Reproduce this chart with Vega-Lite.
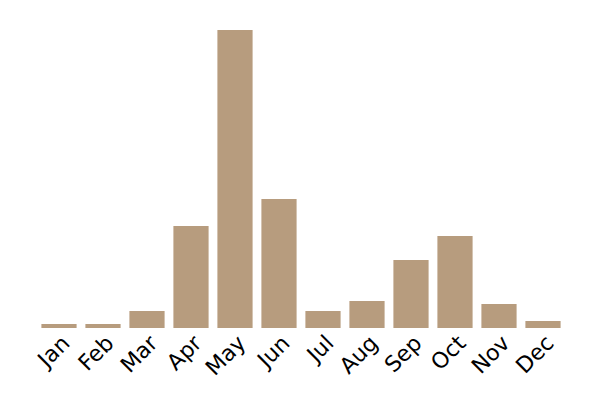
{
  "$schema": "https://vega.github.io/schema/vega-lite/v6.json",
  "width": 528,
  "height": 298,
  "autosize": {"type": "none"},
  "padding": {"left": 37, "top": 30, "right": 35, "bottom": 72},
  "background": "#ffffff",
  "data": {
    "values": [
      {"month": "Jan", "value": 4},
      {"month": "Feb", "value": 4},
      {"month": "Mar", "value": 17},
      {"month": "Apr", "value": 102},
      {"month": "May", "value": 298},
      {"month": "Jun", "value": 129},
      {"month": "Jul", "value": 17},
      {"month": "Aug", "value": 27},
      {"month": "Sep", "value": 68},
      {"month": "Oct", "value": 92},
      {"month": "Nov", "value": 24},
      {"month": "Dec", "value": 7}
    ]
  },
  "mark": {"type": "bar", "color": "#b79c7e"},
  "encoding": {
    "x": {
      "field": "month",
      "type": "nominal",
      "sort": null,
      "title": null,
      "scale": {"paddingInner": 0.2, "paddingOuter": 0.1},
      "axis": {
        "labelAngle": -45,
        "labelFontSize": 22,
        "labelFont": "DejaVu Sans",
        "labelColor": "#000000",
        "labelPadding": 4,
        "labelDx": 4,
        "labelDy": 10,
        "labelLimit": 0,
        "ticks": false,
        "domain": false,
        "grid": false
      }
    },
    "y": {
      "field": "value",
      "type": "quantitative",
      "scale": {"domain": [0, 298], "nice": false},
      "axis": null
    }
  },
  "config": {
    "view": {"stroke": null}
  }
}
